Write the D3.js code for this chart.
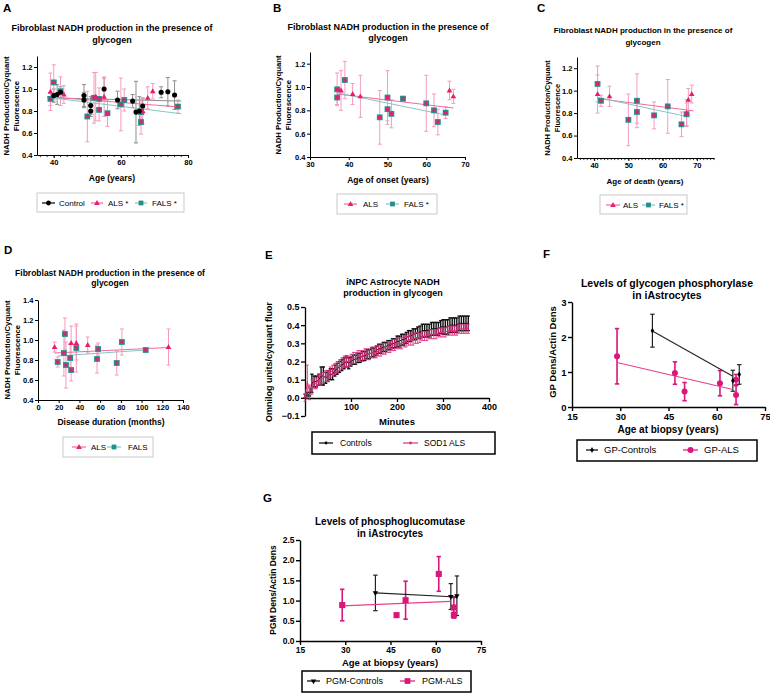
<!DOCTYPE html>
<html><head><meta charset="utf-8">
<script src="https://cdn.jsdelivr.net/npm/d3@7"></script>
<style>
body{margin:0;background:#fff;}
svg{display:block;font-family:"Liberation Sans",Arial,Helvetica,sans-serif;}
</style></head><body>
<svg id="c" width="770" height="693"></svg>
<script>
// ---------- DATA ----------
// [x, mean, sd]
const A_control=[[40,0.94,0.06],[41,0.95,0.09],[42,0.97,0.05],[49,0.94,0.10],[49,0.90,0.07],[51,0.85,0.08],[51,0.80,0.05],[55,1.00,0.10],[59,0.90,0.08],[63.5,0.89,0.06],[64.5,0.79,0.28],[65.5,0.80,0.13],[66.5,0.845,0.07],[72,0.97,0.05],[74,0.975,0.13],[76,0.945,0.13]];
const A_als=[[39,0.975,0.17],[43,0.95,0.08],[52.5,0.93,0.22],[55,0.93,0.18],[66.5,0.80,0.12],[68,0.92,0.10],[69.5,0.98,0.07]];
const A_fals=[[39,0.91,0.06],[40,1.06,0.16],[42,0.98,0.13],[50,0.75,0.23],[52,0.92,0.23],[53.5,0.91,0.10],[53.5,0.81,0.10],[56,0.78,0.12],[60,0.86,0.24],[61,0.90,0.10],[66,0.79,0.10],[66,0.70,0.11],[77,0.84,0.06]];
const A_fitControl=[[38,0.92],[78,0.89]];
const A_fitAls=[[38,0.93],[78,0.835]];
const A_fitFals=[[38,0.925],[78,0.775]];

const B_als=[[38,0.97,0.17],[41,0.94,0.09],[43,0.92,0.18],[66,0.97,0.08],[67,0.92,0.06]];
const B_fals=[[37,0.98,0.14],[37,0.91,0.06],[39,1.06,0.16],[48,0.74,0.23],[50,0.91,0.23],[50,0.81,0.10],[51,0.77,0.12],[54,0.90,0.02],[60,0.86,0.24],[62,0.80,0.14],[63,0.70,0.11],[65,0.78,0.05]];
const B_fitAls=[[37,0.94],[67,0.82]];
const B_fitFals=[[37,0.95],[65,0.76]];

const C_als=[[41,0.97,0.17],[44.5,0.95,0.09],[67,0.80,0.12],[67.5,0.92,0.10],[68.5,0.97,0.08]];
const C_fals=[[41,1.06,0.16],[42,0.91,0.05],[50,0.74,0.23],[52.5,0.91,0.24],[52.5,0.81,0.10],[57.5,0.78,0.12],[61.5,0.86,0.24],[65.5,0.70,0.11],[67,0.79,0.10]];
const C_fitAls=[[41,0.93],[69,0.82]];
const C_fitFals=[[41,0.94],[67,0.77]];

const D_als=[[16,0.93,0.05],[32,0.97,0.17],[37,0.97,0.17],[48,0.95,0.08],[126,0.93,0.18]];
const D_fals=[[19,0.78,0.05],[25,0.87,0.23],[26,1.06,0.16],[27,0.75,0.23],[31,0.82,0.14],[32,0.70,0.11],[37,0.92,0.24],[57,0.81,0.14],[58,0.91,0.06],[76,0.77,0.12],[81,0.98,0.13],[104,0.90,0.02]];
const D_fitAls=[[16,0.87],[126,0.925]];
const D_fitFals=[[19,0.84],[104,0.90]];

const E_time=[0,5,10,15,20,25,30,35,40,45,50,55,60,65,70,75,80,85,90,95,100,105,110,115,120,125,130,135,140,145,150,155,160,165,170,175,180,185,190,195,200,205,210,215,220,225,230,235,240,245,250,255,260,265,270,275,280,285,290,295,300,305,310,315,320,325,330,335,340,345,350,355];
const E_ctrlMean=[0.01,0.02,0.02,0.08,0.09,0.09,0.10,0.12,0.12,0.11,0.12,0.13,0.13,0.15,0.16,0.17,0.18,0.19,0.20,0.19,0.20,0.21,0.21,0.22,0.22,0.23,0.23,0.24,0.24,0.25,0.25,0.26,0.27,0.27,0.28,0.28,0.29,0.29,0.30,0.30,0.31,0.31,0.32,0.32,0.33,0.34,0.34,0.35,0.35,0.36,0.36,0.37,0.37,0.37,0.37,0.38,0.38,0.38,0.38,0.39,0.39,0.39,0.39,0.40,0.40,0.40,0.40,0.41,0.41,0.41,0.41,0.41];
const E_ctrlSem=[0.01,0.01,0.01,0.05,0.03,0.03,0.03,0.05,0.05,0.03,0.03,0.03,0.03,0.03,0.03,0.03,0.03,0.03,0.03,0.03,0.025,0.025,0.025,0.025,0.025,0.025,0.025,0.025,0.025,0.025,0.025,0.025,0.025,0.025,0.025,0.025,0.025,0.025,0.025,0.025,0.03,0.03,0.03,0.03,0.03,0.03,0.03,0.03,0.03,0.03,0.035,0.035,0.035,0.035,0.035,0.035,0.035,0.035,0.035,0.035,0.04,0.04,0.04,0.04,0.04,0.04,0.04,0.04,0.04,0.04,0.04,0.04];
const E_alsMean=[0.00,0.09,0.03,0.06,0.08,0.08,0.10,0.10,0.11,0.12,0.12,0.14,0.15,0.16,0.17,0.18,0.19,0.20,0.20,0.20,0.21,0.22,0.22,0.23,0.23,0.23,0.24,0.24,0.24,0.25,0.25,0.25,0.26,0.26,0.27,0.27,0.28,0.28,0.29,0.29,0.30,0.30,0.30,0.31,0.31,0.32,0.32,0.32,0.33,0.33,0.33,0.34,0.34,0.34,0.35,0.35,0.35,0.35,0.36,0.36,0.36,0.36,0.37,0.37,0.37,0.37,0.37,0.38,0.38,0.38,0.38,0.38];
const E_alsSem=[0.02,0.09,0.04,0.04,0.03,0.03,0.03,0.03,0.03,0.03,0.03,0.03,0.03,0.03,0.03,0.03,0.03,0.03,0.03,0.03,0.03,0.03,0.03,0.03,0.03,0.03,0.03,0.03,0.03,0.03,0.03,0.03,0.03,0.03,0.03,0.03,0.03,0.03,0.03,0.03,0.03,0.03,0.03,0.03,0.03,0.03,0.03,0.03,0.03,0.03,0.025,0.025,0.025,0.025,0.025,0.025,0.025,0.025,0.025,0.025,0.025,0.025,0.025,0.025,0.025,0.025,0.025,0.025,0.025,0.025,0.025,0.025];

const F_controls=[[40,2.18,0.47],[65,0.75,0.30],[67,0.93,0.28]];
const F_als=[[29,1.45,0.79],[47,0.97,0.32],[50,0.44,0.26],[61,0.68,0.36],[66,0.78,0.15],[66,0.34,0.27]];
const F_fitControls=[[40,2.17],[65,0.88]];
const F_fitAls=[[29,1.27],[65,0.50]];

const G_controls=[[40,1.19,0.44],[65,1.10,0.32],[67,1.12,0.49]];
const G_als=[[29,0.89,0.39],[47,0.64,0.04],[50,1.01,0.47],[61,1.66,0.43],[66,0.83,0.25],[66,0.64,0.07]];
const G_fitControls=[[40,1.19],[67,1.09]];
const G_fitAls=[[29,0.87],[65,0.98]];

const titleFib=["Fibroblast NADH production in the presence of","glycogen"];
const yLabFib=["NADH Production/Cyquant","Fluorescence"];

// ---------- DRAWING ----------
const svg=d3.select("#c");
const PINK="#ec1a70",PINK_ERR="#f59bbd",PINK_LINE="#f36a9c",TEAL="#24908a",TEAL_LINE="#86c6c2",GREY="#8c8c8c";
const MAG="#d9177a";

function txt(x,y,s,size,weight,anchor,rot,fill){
  const t=svg.append("text").attr("font-size",size).attr("font-weight",weight||"bold").attr("text-anchor",anchor||"middle").attr("fill",fill||"#000").text(s);
  if(rot) t.attr("transform",`translate(${x},${y}) rotate(-90)`); else t.attr("x",x).attr("y",y);
  return t;
}
function panel(o){
  const x=d3.scaleLinear().domain(o.xd).range(o.xr);
  const y=d3.scaleLinear().domain(o.yd).range(o.yr);
  const g=svg.append("g");
  const lw=o.lw||1;
  const ya=d3.axisLeft(y).tickValues(o.yt).tickSizeInner(o.tk).tickSizeOuter(0).tickPadding(1.5).tickFormat(o.yf);
  const gy=g.append("g").attr("transform",`translate(${o.xr[0]},0)`).call(ya);
  const xAxisY=o.xAxisY!==undefined?o.xAxisY:o.yr[0];
  const xa=d3.axisBottom(x).tickValues(o.xt).tickSizeInner(o.tk).tickSizeOuter(0).tickPadding(o.xpad||2).tickFormat(o.xf||d3.format("d"));
  const gx=g.append("g").attr("transform",`translate(0,${xAxisY})`).call(xa);
  [gy,gx].forEach(a=>{a.attr("font-family",null).attr("font-size",null);
    a.selectAll("path,line").attr("stroke","#000").attr("stroke-width",lw);
    a.selectAll("text").attr("font-size",o.tf).attr("font-weight","bold").attr("fill","#000");});
  if(o.minor){
    g.append("g").selectAll("line").data(o.minor).join("line")
      .attr("x1",d=>x(d)).attr("x2",d=>x(d)).attr("y1",xAxisY).attr("y2",xAxisY+o.tk*0.7)
      .attr("stroke","#000").attr("stroke-width",lw*0.8);
  }
  return {g,x,y};
}
function errBars(p,data,color,cap,w){
  const gg=p.g.append("g").attr("stroke",color).attr("stroke-width",w||1);
  data.forEach(d=>{
    const cx=p.x(d[0]),t=p.y(d[1]+d[2]),b=p.y(d[1]-d[2]);
    gg.append("line").attr("x1",cx).attr("x2",cx).attr("y1",t).attr("y2",b);
    gg.append("line").attr("x1",cx-cap).attr("x2",cx+cap).attr("y1",t).attr("y2",t);
    gg.append("line").attr("x1",cx-cap).attr("x2",cx+cap).attr("y1",b).attr("y2",b);
  });
}
function fit(p,f,color,w){
  p.g.append("line").attr("x1",p.x(f[0][0])).attr("y1",p.y(f[0][1])).attr("x2",p.x(f[1][0])).attr("y2",p.y(f[1][1]))
   .attr("stroke",color).attr("stroke-width",w||1);
}
function marker(g,type,cx,cy,color,s){
  s=s||1;
  if(type==="circle") g.append("circle").attr("cx",cx).attr("cy",cy).attr("r",3*s).attr("fill",color);
  else if(type==="dot") g.append("circle").attr("cx",cx).attr("cy",cy).attr("r",1.4*s).attr("fill",color);
  else if(type==="tri") g.append("path").attr("d",d3.symbol(d3.symbolTriangle,14*s*s)()).attr("transform",`translate(${cx},${cy+0.4})`).attr("fill",color);
  else if(type==="dtri") g.append("path").attr("d",d3.symbol(d3.symbolTriangle,20*s*s)()).attr("transform",`translate(${cx},${cy}) rotate(180)`).attr("fill",color);
  else if(type==="sq") g.append("rect").attr("x",cx-3.2*s).attr("y",cy-3.2*s).attr("width",6.4*s).attr("height",6.4*s).attr("fill",color);
  else if(type==="diamond") g.append("path").attr("d",d3.symbol(d3.symbolDiamond,10*s*s)()).attr("transform",`translate(${cx},${cy})`).attr("fill",color);
  else if(type==="fals"){
    g.append("rect").attr("x",cx-2.9).attr("y",cy-2.9).attr("width",5.8).attr("height",5.8).attr("fill",TEAL);
    g.append("rect").attr("x",cx-1.6).attr("y",cy-1.6).attr("width",3.2).attr("height",3.2).attr("fill",PINK);
  }
}
function points(p,data,type,color,s){
  const gg=p.g.append("g");
  data.forEach(d=>marker(gg,type,p.x(d[0]),p.y(d[1]),color,s));
}
function legend(box,bw,bc,items,cy,fs){
  const g=svg.append("g");
  g.append("rect").attr("x",box[0]).attr("y",box[1]).attr("width",box[2]-box[0]).attr("height",box[3]-box[1])
   .attr("fill","#fff").attr("stroke",bc).attr("stroke-width",bw);
  items.forEach(it=>{
    g.append("line").attr("x1",it.l[0]).attr("x2",it.l[1]).attr("y1",cy).attr("y2",cy).attr("stroke",it.lc).attr("stroke-width",1.2);
    marker(g,it.m,(it.l[0]+it.l[1])/2,cy,it.mc,it.ms||1);
    g.append("text").attr("x",it.tx).attr("y",cy+fs*0.36).attr("font-size",fs).attr("fill","#000").text(it.t);
  });
}
const f1=d3.format(".1f");

// ---------- Panel A ----------
{
  const p=panel({xd:[35,80],xr:[37,188],yd:[0.4,1.3],yr:[155,56],yt:[0.4,0.6,0.8,1.0,1.2],yf:f1,xt:[40,60,80],tk:3,tf:7.5,minor:d3.range(36,80,2)});
  errBars(p,A_control,GREY,2);
  errBars(p,A_fals,PINK_ERR,2);
  errBars(p,A_als,PINK_ERR,2);
  fit(p,A_fitControl,GREY);fit(p,A_fitAls,PINK_LINE);fit(p,A_fitFals,TEAL_LINE);
  points(p,A_fals,"fals");
  points(p,A_als,"tri",PINK);
  points(p,A_control,"circle","#000",0.85);
  txt(3,12,"A",11.5,"bold","start");
  txt(112,31,titleFib[0],9);txt(112,43,titleFib[1],9);
  txt(8.5,106,yLabFib[0],7.8,"bold","middle",true);txt(18.5,106,yLabFib[1],7.8,"bold","middle",true);
  txt(112,181,"Age (years)",8.5);
  legend([37,193,184,212],0.8,"#bbb",[
    {l:[42,55],lc:"#000",m:"circle",mc:"#000",ms:0.8,t:"Control",tx:59},
    {l:[91,103],lc:PINK_LINE,m:"tri",mc:PINK,t:"ALS *",tx:108},
    {l:[135,147],lc:TEAL_LINE,m:"sq",mc:TEAL,ms:0.75,t:"FALS *",tx:152}],203,8);
}
// ---------- Panel B ----------
{
  const p=panel({xd:[30,70],xr:[310,465],yd:[0.4,1.3],yr:[157,52],yt:[0.4,0.6,0.8,1.0,1.2],yf:f1,xt:[30,40,50,60,70],tk:3,tf:7.5});
  errBars(p,B_fals,PINK_ERR,2);
  errBars(p,B_als,PINK_ERR,2);
  fit(p,B_fitAls,PINK_LINE);fit(p,B_fitFals,TEAL_LINE);
  points(p,B_fals,"fals");
  points(p,B_als,"tri",PINK);
  txt(273,12,"B",11.5,"bold","start");
  txt(388,30,titleFib[0],9);txt(388,41,titleFib[1],9);
  txt(281,105,yLabFib[0],7.8,"bold","middle",true);txt(291,105,yLabFib[1],7.8,"bold","middle",true);
  txt(388,183,"Age of onset (years)",8.5);
  legend([337,194,437,214],0.8,"#bbb",[
    {l:[344,357],lc:PINK_LINE,m:"tri",mc:PINK,t:"ALS",tx:363},
    {l:[386,399],lc:TEAL_LINE,m:"sq",mc:TEAL,ms:0.75,t:"FALS *",tx:404}],204,8);
}
// ---------- Panel C ----------
{
  const p=panel({xd:[35,75],xr:[577,714],yd:[0.4,1.3],yr:[158,57],yt:[0.4,0.6,0.8,1.0,1.2],yf:f1,xt:[40,50,60,70],tk:3,tf:7.5,minor:d3.range(36,76,1)});
  errBars(p,C_fals,PINK_ERR,2);
  errBars(p,C_als,PINK_ERR,2);
  fit(p,C_fitAls,PINK_LINE);fit(p,C_fitFals,TEAL_LINE);
  points(p,C_fals,"fals");
  points(p,C_als,"tri",PINK);
  txt(537,12,"C",11.5,"bold","start");
  txt(643,33,titleFib[0],8);txt(643,45,titleFib[1],8);
  txt(550,108,yLabFib[0],7.5,"bold","middle",true);txt(560,108,yLabFib[1],7.5,"bold","middle",true);
  txt(645,184,"Age of death (years)",8);
  legend([600,195,687,214],0.8,"#bbb",[
    {l:[606,620],lc:PINK_LINE,m:"tri",mc:PINK,t:"ALS",tx:623},
    {l:[642,655],lc:TEAL_LINE,m:"sq",mc:TEAL,ms:0.75,t:"FALS *",tx:659}],205,8);
}
// ---------- Panel D ----------
{
  const p=panel({xd:[0,140],xr:[38,183],yd:[0.4,1.4],yr:[400,300],yt:[0.4,0.6,0.8,1.0,1.2,1.4],yf:f1,xt:[0,20,40,60,80,100,120,140],tk:3,tf:7.5});
  errBars(p,D_fals,PINK_ERR,2);
  errBars(p,D_als,PINK_ERR,2);
  fit(p,D_fitAls,PINK_LINE);fit(p,D_fitFals,TEAL_LINE);
  points(p,D_fals,"fals");
  points(p,D_als,"tri",PINK);
  txt(4,254,"D",11.5,"bold","start");
  txt(110,276,titleFib[0],8.5);txt(110,286,titleFib[1],8.5);
  txt(10,350,yLabFib[0],7.8,"bold","middle",true);txt(20,350,yLabFib[1],7.8,"bold","middle",true);
  txt(111,425,"Disease duration (months)",8.5);
  legend([63,437,153,457],0.8,"#bbb",[
    {l:[72,86],lc:PINK_LINE,m:"tri",mc:PINK,t:"ALS",tx:91},
    {l:[107,121],lc:TEAL_LINE,m:"sq",mc:TEAL,ms:0.75,t:"FALS",tx:128}],447,8);
}
// ---------- Panel E ----------
{
  const p=panel({xd:[0,400],xr:[305,489],yd:[-0.1,0.5],yr:[416,307],yt:[-0.1,0,0.1,0.2,0.3,0.4,0.5],yf:f1,xt:[100,200,300,400],tk:4,tf:9,lw:1.3,xAxisY:398,xpad:2});
  const ctrl=E_time.map((t,i)=>[t,E_ctrlMean[i],E_ctrlSem[i]]);
  const als=E_time.map((t,i)=>[t,E_alsMean[i],E_alsSem[i]]);
  errBars(p,ctrl,"#111",1.6,1.4);
  const line=d3.line().x(d=>p.x(d[0])).y(d=>p.y(d[1]));
  p.g.append("path").attr("d",line(ctrl)).attr("fill","none").attr("stroke","#000").attr("stroke-width",1);
  errBars(p,als,"#e0307f",1.4,0.9);
  p.g.append("path").attr("d",line(als)).attr("fill","none").attr("stroke","#e0307f").attr("stroke-width",1);
  txt(265,259,"E",11.5,"bold","start");
  txt(393,285,"iNPC Astrocyte NADH",9);txt(393,296,"production in glycogen",9);
  txt(271.5,362,"Omnilog units/cyquant fluor",9,"bold","middle",true);
  txt(397,425,"Minutes",9.5);
  legend([312,432,495,454],1.5,"#000",[
    {l:[319,333],lc:"#000",m:"dot",mc:"#000",t:"Controls",tx:340},
    {l:[403,418],lc:"#e0307f",m:"dot",mc:"#e0307f",t:"SOD1 ALS",tx:424}],443,8.5);
}
// ---------- Panel F ----------
{
  const p=panel({xd:[15,75],xr:[572,765],yd:[0,3],yr:[407,302],yt:[0,1,2,3],yf:d3.format("d"),xt:[15,30,45,60,75],tk:4,tf:9.5,lw:1.4});
  errBars(p,F_als,MAG,2.2,1.6);
  errBars(p,F_controls,"#222",2.2,1.2);
  fit(p,F_fitControls,"#222",1.1);fit(p,F_fitAls,"#e8408a",1.1);
  points(p,F_als,"circle",MAG,1);
  points(p,F_controls,"diamond","#000",1);
  txt(543,258,"F",11.5,"bold","start");
  txt(667,287,"Levels of glycogen phosphorylase",10.5);txt(667,299,"in iAstrocytes",10.5);
  txt(555.5,352,"GP Dens/Actin Dens",9.5,"bold","middle",true);
  txt(668,433,"Age at biopsy (years)",10);
  legend([577,440,757,461],1.5,"#000",[
    {l:[586,598],lc:"#000",m:"diamond",mc:"#000",t:"GP-Controls",tx:604},
    {l:[683,698],lc:MAG,m:"circle",mc:MAG,t:"GP-ALS",tx:704}],450,9.5);
}
// ---------- Panel G ----------
{
  const p=panel({xd:[15,75],xr:[300,481],yd:[0,2.5],yr:[641,540],yt:[0,0.5,1.0,1.5,2.0,2.5],yf:f1,xt:[15,30,45,60,75],tk:4,tf:8.5,lw:1.4});
  errBars(p,G_als,MAG,2.2,1.6);
  errBars(p,G_controls,"#222",2.2,1.2);
  fit(p,G_fitControls,"#222",1.1);fit(p,G_fitAls,"#e8408a",1.1);
  points(p,G_als,"sq",MAG,0.95);
  points(p,G_controls,"dtri","#000",0.8);
  txt(263,502,"G",11.5,"bold","start");
  txt(390,525,"Levels of phosphoglucomutase",10);txt(390,537,"in iAstrocytes",10);
  txt(276,590,"PGM Dens/Actin Dens",8.5,"bold","middle",true);
  txt(390,666,"Age at biopsy (years)",9.5);
  legend([302,671,471,692],1.5,"#000",[
    {l:[307,320],lc:"#000",m:"dtri",mc:"#000",ms:0.8,t:"PGM-Controls",tx:326},
    {l:[400,415],lc:MAG,m:"sq",mc:MAG,ms:0.9,t:"PGM-ALS",tx:422}],681,9);
}
</script></body></html>
